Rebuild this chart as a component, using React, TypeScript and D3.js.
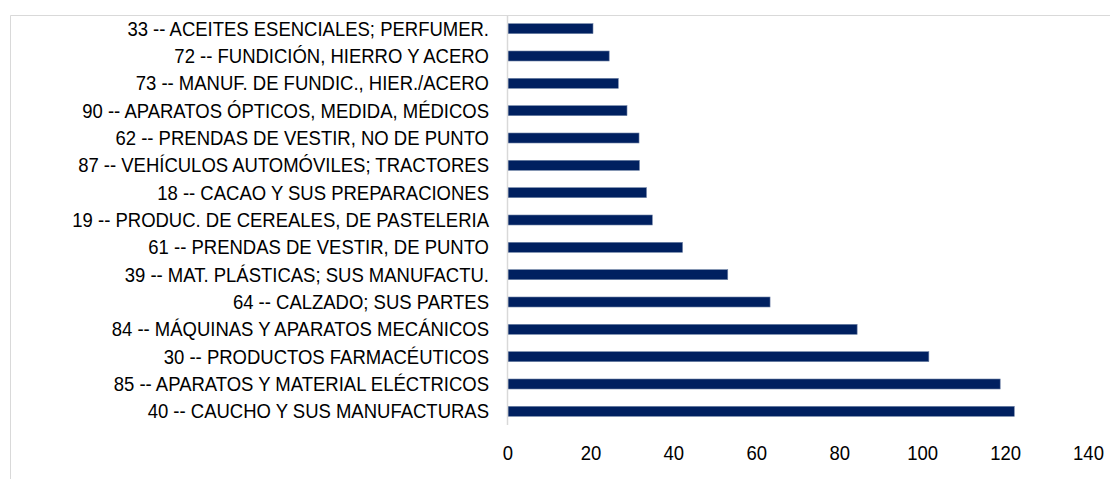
import React, { useEffect, useRef } from "react";
import * as d3 from "d3";

// categories, top to bottom as drawn
const categories = [
  "33 -- ACEITES ESENCIALES; PERFUMER.",
  "72 -- FUNDICIÓN, HIERRO Y ACERO",
  "73 -- MANUF. DE FUNDIC., HIER./ACERO",
  "90 -- APARATOS ÓPTICOS, MEDIDA, MÉDICOS",
  "62 -- PRENDAS DE VESTIR, NO DE PUNTO",
  "87 -- VEHÍCULOS AUTOMÓVILES; TRACTORES",
  "18 -- CACAO Y SUS PREPARACIONES",
  "19 -- PRODUC. DE CEREALES, DE PASTELERIA",
  "61 -- PRENDAS DE VESTIR, DE PUNTO",
  "39 -- MAT. PLÁSTICAS; SUS MANUFACTU.",
  "64 -- CALZADO; SUS PARTES",
  "84 -- MÁQUINAS Y APARATOS MECÁNICOS",
  "30 -- PRODUCTOS FARMACÉUTICOS",
  "85 -- APARATOS Y MATERIAL ELÉCTRICOS",
  "40 -- CAUCHO Y SUS MANUFACTURAS",
];

const values = [
  20.5, 24.4, 26.6, 28.7, 31.6, 31.7, 33.4, 34.8, 42.1, 53.0, 63.2, 84.2, 101.5,
  118.7, 122.1,
];

const xTicks = [0, 20, 40, 60, 80, 100, 120, 140];

const W = 1110,
  H = 479;

export default function App() {
  const svgRef = useRef<SVGSVGElement>(null);

  useEffect(() => {
    const svg = d3.select(svgRef.current);
    svg.selectAll("*").remove();

    const font = "'Liberation Sans', Arial, sans-serif";
    const top = 15,
      bottom = 425,
      left = 508,
      right = 1088.5;

    const x = d3.scaleLinear().domain([0, 140]).range([left, right]);
    const y = d3
      .scaleBand<string>()
      .domain(categories)
      .range([top, bottom])
      .paddingInner(0.634)
      .paddingOuter(0.317);

    // chart frame (only top and left edges visible)
    svg
      .append("path")
      .attr("d", `M10.5,${H} V15.5 H${W}`)
      .attr("fill", "none")
      .attr("stroke", "#d9d9d9")
      .attr("stroke-width", 1);

    // bars
    svg
      .append("g")
      .selectAll("rect")
      .data(values)
      .enter()
      .append("rect")
      .attr("x", x(0))
      .attr("y", (d, i) => y(categories[i]) as number)
      .attr("width", (d) => x(d) - x(0))
      .attr("height", y.bandwidth())
      .attr("fill", "#002060")
      .attr("stroke", "#6f82a6")
      .attr("stroke-width", 0.6);

    // category axis line
    svg
      .append("line")
      .attr("x1", left - 0.5)
      .attr("x2", left - 0.5)
      .attr("y1", top)
      .attr("y2", bottom)
      .attr("stroke", "#d9d9d9")
      .attr("stroke-width", 1.5);

    // category labels (slightly taller glyphs, as in the original)
    svg
      .append("g")
      .selectAll("text")
      .data(categories)
      .enter()
      .append("text")
      .attr(
        "transform",
        (d) =>
          `translate(${left - 19},${(y(d) as number) + y.bandwidth() / 2}) scale(1,1.06)`
      )
      .attr("dy", "0.36em")
      .attr("text-anchor", "end")
      .attr("font-family", font)
      .attr("font-size", 18.5)
      .attr("fill", "#000")
      .text((d) => d);

    // value axis labels
    svg
      .append("g")
      .selectAll("text")
      .data(xTicks)
      .enter()
      .append("text")
      .attr("transform", (d) => `translate(${x(d)},452.5) scale(1,1.06)`)
      .attr("dy", "0.36em")
      .attr("text-anchor", "middle")
      .attr("font-family", font)
      .attr("font-size", 18.5)
      .attr("fill", "#000")
      .text((d) => d);
  }, []);

  return (
    <svg
      ref={svgRef}
      width={W}
      height={H}
      style={{ position: "absolute", left: 0, top: 0, background: "#fff" }}
    />
  );
}
